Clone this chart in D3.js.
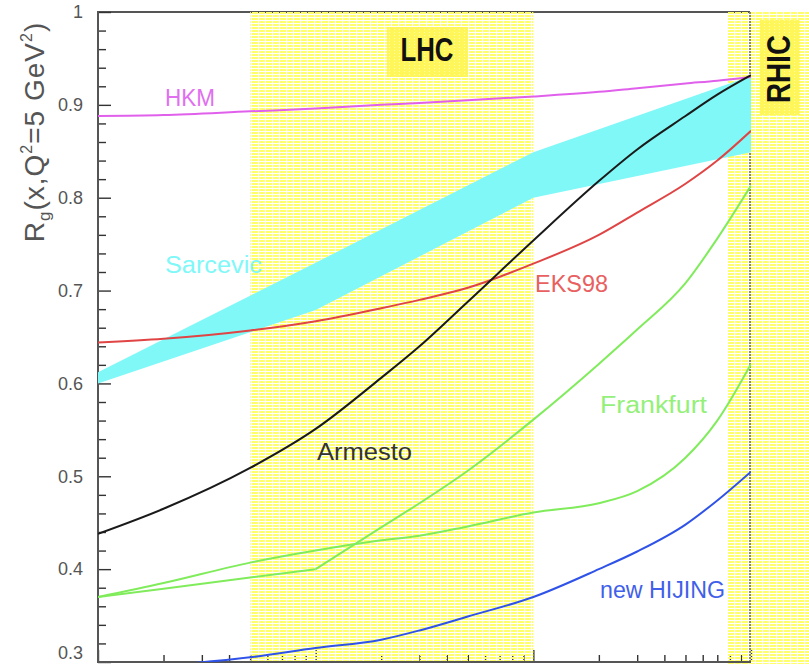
<!DOCTYPE html>
<html>
<head>
<meta charset="utf-8">
<script src="https://cdn.jsdelivr.net/npm/d3@7"></script>
<style>
  html, body { margin: 0; padding: 0; background: #fff; }
  svg { display: block; }
  text { font-family: "Liberation Sans", Arial, Helvetica, sans-serif; }
</style>
</head>
<body>
<svg id="chart" width="809" height="664"></svg>
<script>
// Gluon shadowing ratio R_g(x, Q^2 = 5 GeV^2) for several models
const xGrid      = [1e-5, 2e-5, 5e-5, 1e-4, 2e-4, 3e-4, 5e-4, 1e-3, 2e-3, 3e-3, 5e-3, 7e-3, 1e-2];
const hkm        = [0.888, 0.889, 0.893, 0.896, 0.900, 0.902, 0.905, 0.909, 0.914, 0.918, 0.923, 0.926, 0.930];
const armesto    = [0.438, 0.465, 0.509, 0.551, 0.606, 0.640, 0.688, 0.754, 0.818, 0.852, 0.888, 0.911, 0.932];
const eks98      = [0.644, 0.648, 0.657, 0.667, 0.681, 0.690, 0.703, 0.729, 0.760, 0.784, 0.815, 0.840, 0.872];
const frankfurtA = [0.370, 0.379, 0.391, 0.400, 0.445, 0.471, 0.506, 0.561, 0.621, 0.658, 0.708, 0.756, 0.813];
const frankfurtB = [0.370, 0.385, 0.407, 0.420, 0.431, 0.436, 0.446, 0.461, 0.471, 0.484, 0.520, 0.560, 0.621];
const newHijing  = [null, 0.296, 0.305, 0.315, 0.324, 0.334, 0.349, 0.370, 0.400, 0.419, 0.448, 0.474, 0.505];
// index in xGrid where the first Frankfurt curve turns up sharply
const frankfurtKink = 3;

// Sarcevic: band between lower and upper estimate
const sarcX    = [1e-5, 1e-4, 1e-3, 1e-2];
const sarcHigh = [0.612, 0.730, 0.849, 0.931];
const sarcLow  = [0.600, 0.679, 0.800, 0.849];

// kinematic regions in x
const lhcRange  = [5e-5, 1e-3];
const rhicRange = [7.8e-3, 2e-2];

const yTicks = [0.3, 0.4, 0.5, 0.6, 0.7, 0.8, 0.9, 1.0];

const svg = d3.select("#chart");
const L = 98, R = 751, T = 12, B = 662;

const x = d3.scaleLog().domain([1e-5, 1e-2]).range([L, R]);
const y = d3.scaleLinear().domain([0.3, 1.0]).range([B, T]);

const defs = svg.append("defs");
const pat = defs.append("pattern").attr("id", "hatch")
  .attr("patternUnits", "userSpaceOnUse").attr("width", 7).attr("height", 3);
pat.append("rect").attr("x", 0).attr("y", 0).attr("width", 6).attr("height", 2).attr("fill", "#ffff6e");
const pat2 = defs.append("pattern").attr("id", "hatch2")
  .attr("patternUnits", "userSpaceOnUse").attr("width", 5).attr("height", 3);
pat2.append("rect").attr("width", 5).attr("height", 3).attr("fill", "#fff75a");
pat2.append("rect").attr("x", 4).attr("y", 2).attr("width", 1).attr("height", 1).attr("fill", "#fffbb0");
defs.append("clipPath").attr("id", "plotClip")
  .append("rect").attr("x", L).attr("y", T).attr("width", R - L).attr("height", B - T);

// top frame line (sits under the hatched regions)
svg.append("line").attr("x1", L).attr("x2", R - 1).attr("y1", T).attr("y2", T)
  .attr("stroke", "#555").attr("stroke-width", 2);

// y axis ticks, pointing inward
const yMinor = d3.range(0.32, 1.0, 0.02).filter(v => Math.abs(v * 10 - Math.round(v * 10)) > 1e-6);
svg.append("g").attr("transform", `translate(${L},0)`)
  .call(d3.axisLeft(y).tickValues(yMinor).tickSizeInner(-8).tickSizeOuter(0).tickFormat(""))
  .call(g => g.select(".domain").remove())
  .call(g => g.selectAll("line").attr("stroke", "#333").attr("stroke-width", 1.4));
svg.append("g").attr("transform", `translate(${L},0)`)
  .call(d3.axisLeft(y).tickValues(yTicks).tickSizeInner(-13).tickSizeOuter(0).tickPadding(15)
    .tickFormat(v => v === 1 ? "1" : d3.format(".1f")(v)))
  .call(g => g.select(".domain").remove())
  .call(g => g.selectAll("line").attr("stroke", "#333").attr("stroke-width", 1.4))
  .call(g => g.selectAll("text").attr("fill", "#555").attr("font-size", 18)
    .attr("font-family", "Liberation Sans, Arial, sans-serif"))
  // lowest label sits on the bottom edge; lift it so it stays inside the page
  .call(g => g.selectAll("text").filter(v => v === 0.3).attr("dy", "-0.2em"));

// x axis ticks (log decades and minors), pointing inward
const xMajor = [1e-5, 1e-4, 1e-3, 1e-2];
const xMinor = [];
[1e-5, 1e-4, 1e-3].forEach(d => { for (let k = 2; k <= 9; k++) xMinor.push(k * d); });
svg.append("g").attr("transform", `translate(0,${B})`)
  .call(d3.axisBottom(x).tickValues(xMinor).tickSizeInner(-7).tickSizeOuter(0).tickFormat(""))
  .call(g => g.select(".domain").remove())
  .call(g => g.selectAll("line").attr("stroke", "#333").attr("stroke-width", 1.4));
svg.append("g").attr("transform", `translate(0,${B})`)
  .call(d3.axisBottom(x).tickValues(xMajor).tickSizeInner(-12).tickSizeOuter(0).tickFormat(""))
  .call(g => g.select(".domain").remove())
  .call(g => g.selectAll("line").attr("stroke", "#333").attr("stroke-width", 1.4));

// LHC and RHIC regions
svg.append("rect").attr("x", x(lhcRange[0])).attr("y", T)
  .attr("width", x(lhcRange[1]) - x(lhcRange[0])).attr("height", B - T - 1)
  .attr("fill", "url(#hatch)");
svg.append("rect").attr("x", x(rhicRange[0])).attr("y", T)
  .attr("width", x(rhicRange[1]) - x(rhicRange[0])).attr("height", B - T + 2)
  .attr("fill", "url(#hatch)");

// right frame line, dotted
svg.append("line").attr("x1", R - 1).attr("x2", R - 1).attr("y1", T).attr("y2", B)
  .attr("stroke", "#666").attr("stroke-width", 1.5).attr("stroke-dasharray", "2,1");

// left and bottom axis lines
svg.append("line").attr("x1", L).attr("x2", L).attr("y1", T - 1).attr("y2", B + 1)
  .attr("stroke", "#555").attr("stroke-width", 2);
svg.append("line").attr("x1", L).attr("x2", R).attr("y1", B).attr("y2", B)
  .attr("stroke", "#555").attr("stroke-width", 2);

const plot = svg.append("g").attr("clip-path", "url(#plotClip)");

// Sarcevic band
const area = d3.area()
  .x((d, i) => x(sarcX[i]))
  .y0((d, i) => y(sarcLow[i]))
  .y1((d, i) => y(sarcHigh[i]));
plot.append("path").datum(sarcX).attr("d", area).attr("fill", "#80f8f8");

// model curves
const pts = vals => xGrid.map((xv, i) => [xv, vals[i]]);
const series = [
  { data: pts(hkm),                                   color: "#e060ec", curve: d3.curveMonotoneX },
  { data: pts(eks98),                                 color: "#e04444", curve: d3.curveMonotoneX },
  { data: pts(armesto),                               color: "#1a1a1a", curve: d3.curveMonotoneX },
  { data: pts(frankfurtA).slice(0, frankfurtKink + 1), color: "#80ec5c", curve: d3.curveLinear },
  { data: pts(frankfurtA).slice(frankfurtKink),        color: "#80ec5c", curve: d3.curveMonotoneX },
  { data: pts(frankfurtB),                            color: "#80ec5c", curve: d3.curveMonotoneX },
  { data: pts(newHijing),                             color: "#2f52e8", curve: d3.curveMonotoneX }
];
series.forEach(s => {
  const line = d3.line()
    .defined(d => d[1] != null)
    .x(d => x(d[0])).y(d => y(d[1]))
    .curve(s.curve);
  plot.append("path")
    .datum(s.data)
    .attr("d", line)
    .attr("fill", "none")
    .attr("stroke", s.color)
    .attr("stroke-width", 2)
    .attr("stroke-linejoin", "round");
});

// curve labels
const labels = [
  { text: "HKM",        x: 165, y: 106, w: 50,  color: "#e070f0" },
  { text: "Sarcevic",   x: 165, y: 273, w: 97,  color: "#80f8f8" },
  { text: "EKS98",      x: 535, y: 292, w: 73,  color: "#e86060" },
  { text: "Armesto",    x: 317, y: 460, w: 95,  color: "#333333" },
  { text: "Frankfurt",  x: 600, y: 413, w: 107, color: "#94f07a" },
  { text: "new HIJING", x: 600, y: 598, w: 125, color: "#4060ea" }
];
labels.forEach(l => {
  svg.append("text").attr("x", l.x).attr("y", l.y)
    .attr("font-size", 23).attr("fill", l.color)
    .attr("textLength", l.w).attr("lengthAdjust", "spacingAndGlyphs")
    .text(l.text);
});

// region titles
svg.append("rect").attr("x", 387).attr("y", 27).attr("width", 81).attr("height", 50)
  .attr("fill", "url(#hatch2)");
svg.append("text").attr("x", 427).attr("y", 61).attr("text-anchor", "middle")
  .attr("font-size", 34).attr("font-weight", "bold").attr("fill", "#111")
  .attr("textLength", 53).attr("lengthAdjust", "spacingAndGlyphs")
  .text("LHC");
svg.append("rect").attr("x", 760).attr("y", 20).attr("width", 40).attr("height", 95)
  .attr("fill", "url(#hatch2)");
svg.append("text").attr("transform", "translate(790,69) rotate(-90)")
  .attr("text-anchor", "middle")
  .attr("font-size", 34).attr("font-weight", "bold").attr("fill", "#111")
  .attr("textLength", 68).attr("lengthAdjust", "spacingAndGlyphs")
  .text("RHIC");

// y axis title
const yt = svg.append("text").attr("transform", "translate(44,132) rotate(-90)")
  .attr("text-anchor", "middle").attr("font-size", 28).attr("fill", "#555")
  .attr("letter-spacing", 1);
yt.append("tspan").text("R");
yt.append("tspan").attr("font-size", 17).attr("dy", 6).text("g");
yt.append("tspan").attr("dy", -6).text("(x,Q");
yt.append("tspan").attr("font-size", 16).attr("dy", -12).text("2");
yt.append("tspan").attr("dy", 12).text("=5 GeV");
yt.append("tspan").attr("font-size", 16).attr("dy", -12).text("2");
yt.append("tspan").attr("dy", 12).text(")");
</script>
</body>
</html>
